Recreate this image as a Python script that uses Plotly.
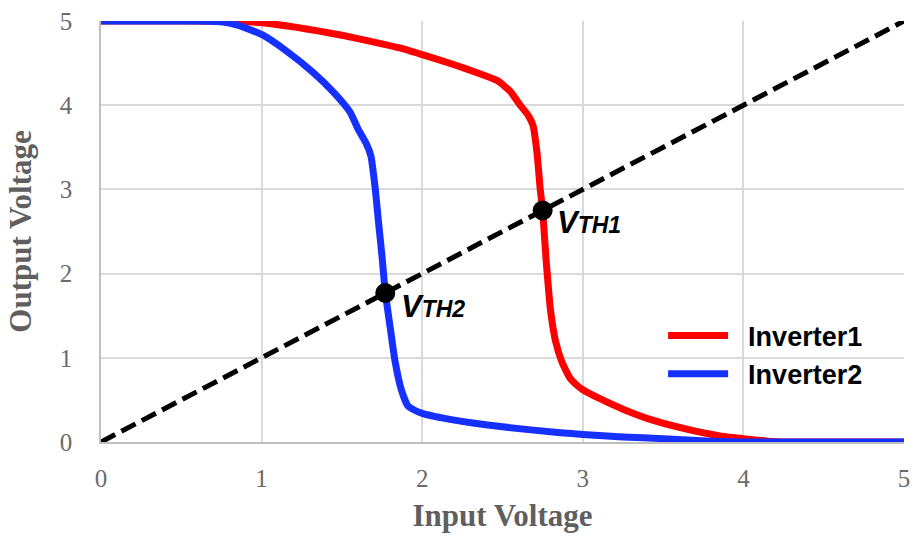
import plotly.graph_objects as go

# Voltage transfer characteristics of two inverters
inv1_vin = [0.0, 0.5, 0.9, 1.0, 1.2, 1.36, 1.5, 1.7, 1.86, 2.0, 2.2, 2.35, 2.47, 2.55, 2.61,
            2.66, 2.69, 2.715, 2.735, 2.75, 2.77, 2.80, 2.83, 2.87, 2.92, 2.96, 3.0, 3.1,
            3.25, 3.45, 3.7, 3.9, 4.0, 4.15, 4.3, 5.0]
inv1_vout = [5.0, 5.0, 4.99, 4.98, 4.93, 4.88, 4.83, 4.75, 4.68, 4.60, 4.48, 4.38, 4.29, 4.16, 4.0,
             3.88, 3.76, 3.43, 3.0, 2.75, 2.2, 1.55, 1.2, 0.95, 0.76, 0.68, 0.62, 0.52,
             0.39, 0.25, 0.13, 0.06, 0.04, 0.01, 0.0, 0.0]

inv2_vin = [0.0, 0.6, 0.75, 0.85, 1.0, 1.15, 1.32, 1.45, 1.55, 1.6, 1.65, 1.68, 1.707, 1.727,
            1.75, 1.77, 1.80, 1.83, 1.87, 1.91, 1.95, 2.0, 2.2, 2.5, 2.86, 3.0, 3.25, 3.5,
            3.8, 4.0, 5.0]
inv2_vout = [5.0, 5.0, 4.99, 4.95, 4.84, 4.65, 4.39, 4.15, 3.92, 3.72, 3.55, 3.40, 3.02, 2.63,
             2.2, 1.78, 1.37, 0.97, 0.62, 0.43, 0.38, 0.34, 0.26, 0.18, 0.11, 0.09, 0.06, 0.04,
             0.01, 0.0, 0.0]

# Vin = Vout reference line
ref_v = [0.0, 5.0]

# Switching thresholds
vth_names = ["V<span style='font-size:23px'>TH1</span>", "V<span style='font-size:23px'>TH2</span>"]
vth_values = [2.75, 1.77]

tick_vals = [0, 1, 2, 3, 4, 5]

fig = go.Figure()

fig.add_trace(go.Scatter(x=ref_v, y=ref_v, mode="lines", showlegend=False,
                         line=dict(color="black", width=5, dash="16px,7px"),
                         cliponaxis=False, hoverinfo="skip"))
fig.add_trace(go.Scatter(x=inv1_vin, y=inv1_vout, mode="lines",
                         name="&nbsp;&nbsp;<b>Inverter1</b>",
                         line=dict(color="#ff0000", width=7, shape="spline", smoothing=0.5),
                         cliponaxis=False))
fig.add_trace(go.Scatter(x=inv2_vin, y=inv2_vout, mode="lines",
                         name="&nbsp;&nbsp;<b>Inverter2</b>",
                         line=dict(color="#1530ff", width=7, shape="spline", smoothing=0.5),
                         cliponaxis=False))
fig.add_trace(go.Scatter(x=vth_values, y=vth_values, mode="markers", showlegend=False,
                         marker=dict(color="black", size=20), cliponaxis=False))

label_shift = [(12, -12), (14, -14)]
for name, v, (dx, dy) in zip(vth_names, vth_values, label_shift):
    fig.add_annotation(x=v, y=v, text="<b><i>" + name + "</i></b>", showarrow=False,
                       xanchor="left", yanchor="middle", xshift=dx, yshift=dy,
                       font=dict(family="Liberation Sans, Arial", size=31, color="black"))

axis_common = dict(
    range=[0, 5], tickvals=tick_vals, showgrid=True, gridcolor="#d9d9d9", gridwidth=1.5,
    showline=True, linecolor="#bfbfbf", linewidth=1.5, zeroline=False, automargin=False,
    ticks="outside", tickcolor="rgba(0,0,0,0)",
    tickfont=dict(family="Liberation Serif, Times New Roman", size=25, color="#6b6b6b"),
)

fig.update_xaxes(**axis_common, ticklen=13,
                 title=dict(text="<b>Input Voltage</b>", standoff=14,
                            font=dict(family="Liberation Serif, Times New Roman", size=31,
                                      color="#5f5f5f")))
fig.update_yaxes(**axis_common, ticklen=22,
                 title=dict(text="<b>Output Voltage</b>", standoff=19,
                            font=dict(family="Liberation Serif, Times New Roman", size=31,
                                      color="#5f5f5f")))

fig.update_layout(
    width=914, height=542,
    margin=dict(l=101, r=10, t=21, b=100),
    paper_bgcolor="white", plot_bgcolor="white",
    legend=dict(x=0.70, y=0.31, xanchor="left", yanchor="top",
                bgcolor="rgba(0,0,0,0)", itemwidth=60, tracegroupgap=0,
                font=dict(family="Liberation Sans, Arial", size=27, color="black")),
    font=dict(family="Liberation Sans, Arial"),
)

fig.write_html("out.html")
